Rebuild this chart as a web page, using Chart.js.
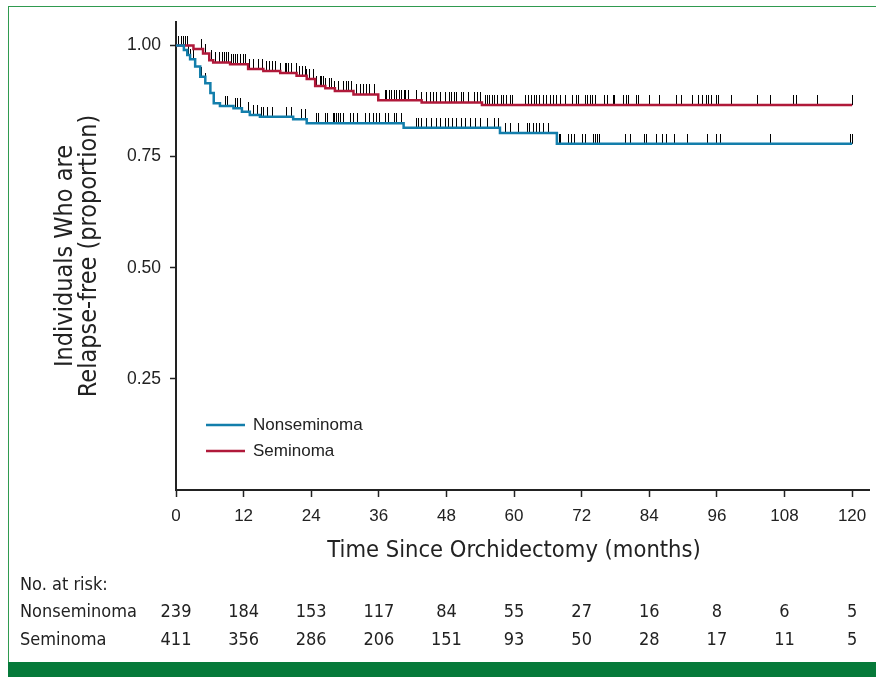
<!DOCTYPE html>
<html><head><meta charset="utf-8">
<script src="https://cdn.jsdelivr.net/npm/chart.js@4/dist/chart.umd.min.js"></script>
<style>
html,body{margin:0;padding:0;background:#fff;}
#wrap{position:relative;width:876px;height:677px;overflow:hidden;background:#fff;}
#frame{position:absolute;left:8px;top:6px;width:900px;height:700px;border-left:1.5px solid #2f9a4f;border-top:1.5px solid #2f9a4f;box-sizing:border-box;}
#bar{position:absolute;left:8px;top:662px;width:868px;height:15px;background:#067a3a;}
canvas{position:absolute;left:0;top:0;}
</style></head>
<body><div id="wrap"><div id="frame"></div><div id="bar"></div><canvas id="c" width="876" height="677"></canvas></div>
<script>
// ---------------- data ----------------
const xTicks = [0,12,24,36,48,60,72,84,96,108,120];
const yTicks = [0.25,0.50,0.75,1.00];
const seriesNames = ['Nonseminoma','Seminoma'];

// Kaplan–Meier step points (time in months, proportion relapse-free from that time on)
const nonsemTimes  = [0,1.4,2.0,2.5,3.4,4.3,5.2,6.1,6.7,7.8,10.2,11.7,13.1,14.9,20.8,23.2,40.4,57.5,67.6,120];
const nonsemValues = [1.0,0.990,0.979,0.969,0.953,0.930,0.915,0.893,0.870,0.864,0.859,0.851,0.844,0.840,0.834,0.825,0.815,0.803,0.779,0.779];
const semTimes  = [0,3.1,4.8,5.9,6.6,9.6,12.8,15.5,18.5,21.4,23.2,24.7,26.5,28.2,31.5,35.9,43.6,54.3,120];
const semValues = [1.0,0.992,0.982,0.967,0.962,0.958,0.947,0.943,0.938,0.932,0.925,0.909,0.904,0.898,0.890,0.877,0.872,0.866,0.866];

// censoring times (months)
const nonsemCensor = [2.2,2.5,3.1,4.6,5.2,8.8,9.2,10.5,11.0,11.4,12.8,13.8,14.4,15.1,15.6,16.2,17.2,19.6,20.5,22.3,22.9,24.9,25.3,26.5,26.9,27.9,28.2,28.5,28.8,29.2,29.8,30.9,31.5,32.2,33.7,34.4,35.0,35.5,36.2,37.1,37.7,38.7,39.1,40.1,42.7,43.0,43.6,44.5,45.4,46.3,46.9,47.8,48.3,49.1,49.8,50.6,51.3,52.2,53.1,54.0,55.2,56.6,57.2,58.4,59.3,60.8,62.3,62.8,63.4,64.0,64.6,65.2,66.1,68.0,68.3,69.6,70.2,70.7,72.2,72.6,74.1,74.4,74.8,75.1,79.8,80.6,83.1,83.5,85.2,86.4,87.1,88.4,90.7,94.3,96.0,96.6,105.5,119.8,120];
const semCensor = [0.5,0.9,1.3,1.6,2.0,4.5,5.3,6.3,7.0,7.8,8.2,8.6,9.0,9.4,9.8,10.2,10.6,11.0,11.4,11.9,12.4,13.0,13.8,14.6,15.3,16.0,16.6,17.2,17.6,18.5,19.4,19.6,19.9,20.5,21.3,22.0,22.4,22.9,23.2,23.7,24.4,25.0,25.6,25.9,26.2,26.5,27.2,27.6,28.2,28.8,29.7,30.2,30.6,31.2,32.0,32.7,33.3,33.9,34.4,35.3,37.1,37.4,37.9,38.3,38.7,39.2,39.6,40.1,40.5,40.8,41.2,42.7,43.6,44.5,45.1,45.7,46.3,46.9,47.8,48.6,48.9,49.4,49.8,50.6,51.0,51.9,53.0,53.6,54.1,54.9,55.3,55.7,56.2,56.6,57.1,57.7,58.1,58.7,59.3,59.7,62.0,62.5,63.1,63.6,64.0,64.6,65.2,65.8,66.4,67.0,67.6,68.3,69.2,70.4,71.1,71.4,72.6,73.0,73.5,74.0,74.4,76.0,76.5,77.6,77.9,79.5,79.9,80.3,81.7,82.1,84.1,85.8,88.9,89.8,91.7,92.7,93.5,94.1,94.5,95.1,95.9,96.3,98.6,103.2,105.6,109.6,110.2,113.8,120];

// numbers at risk
const riskTimes = [0,12,24,36,48,60,72,84,96,108,120];
const riskNonsem = [239,184,153,117,84,55,27,16,8,6,5];
const riskSem = [411,356,286,206,151,93,50,28,17,11,5];

const xTitle = 'Time Since Orchidectomy (months)';
const yTitle = ['Individuals Who are','Relapse-free (proportion)'];
const riskHeader = 'No. at risk:';

// ---------------- styles ----------------
const BLUE = '#137eab', RED = '#b0193a', INK = '#222222';
const SANS = "'Liberation Sans', Arial, Helvetica, sans-serif";
const NARROW = "'Liberation Sans Narrow', 'DejaVu Sans Condensed', 'Roboto', sans-serif";

function stepAt(times, vals, t){ let v = vals[0]; for (let i=0;i<times.length;i++){ if (times[i] <= t) v = vals[i]; } return v; }
function pts(times, vals){ return times.map((t,i)=>({x:t,y:vals[i]})); }
function censorPts(ct, times, vals){ return ct.map(t=>({x:t,y:stepAt(times, vals, t)})); }

// censor tick glyph: thin vertical bar extending upward from the point
const tick = document.createElement('canvas');
tick.width = 1; tick.height = 20;
(function(){ const c = tick.getContext('2d'); c.fillStyle = '#000'; c.fillRect(0,0,1,10); })();

const extras = {
  id: 'extras',
  afterDraw(chart){
    const ctx = chart.ctx, xs = chart.scales.x;
    ctx.save();
    // x-axis title
    ctx.fillStyle = INK; ctx.textAlign = 'center'; ctx.textBaseline = 'middle';
    ctx.font = `23.5px ${NARROW}`;
    ctx.fillText(xTitle, (xs.getPixelForValue(0) + xs.getPixelForValue(120)) / 2, 551);
    // legend
    const cols = [BLUE, RED];
    const ly = [425, 451];
    ctx.textAlign = 'left';
    ctx.font = `17px ${SANS}`;
    seriesNames.forEach((n,i)=>{
      ctx.strokeStyle = cols[i]; ctx.lineWidth = 2.5;
      ctx.beginPath(); ctx.moveTo(206, ly[i]); ctx.lineTo(245, ly[i]); ctx.stroke();
      ctx.fillStyle = INK; ctx.fillText(n, 253, ly[i] + 0.5);
    });
    // number-at-risk table
    ctx.font = `18px ${NARROW}`;
    ctx.fillStyle = INK;
    ctx.textAlign = 'left';
    ctx.fillText(riskHeader, 20, 585);
    ctx.fillText(seriesNames[0], 20, 612);
    ctx.fillText(seriesNames[1], 20, 640);
    ctx.textAlign = 'center';
    riskTimes.forEach((t,i)=>{
      const px = xs.getPixelForValue(t);
      ctx.fillText(String(riskNonsem[i]), px, 612);
      ctx.fillText(String(riskSem[i]), px, 640);
    });
    ctx.restore();
  }
};

new Chart(document.getElementById('c'), {
  type: 'line',
  data: {
    datasets: [
      { label: seriesNames[0], data: pts(nonsemTimes, nonsemValues), borderColor: BLUE, borderWidth: 2.5, stepped: 'before', pointRadius: 0, fill: false, order: 1 },
      { label: seriesNames[1], data: pts(semTimes, semValues), borderColor: RED, borderWidth: 2.5, stepped: 'before', pointRadius: 0, fill: false, order: 1 },
      { label: 'Nonseminoma censored', data: censorPts(nonsemCensor, nonsemTimes, nonsemValues), showLine: false, pointStyle: tick, pointRadius: 5, order: 2 },
      { label: 'Seminoma censored', data: censorPts(semCensor, semTimes, semValues), showLine: false, pointStyle: tick, pointRadius: 5, order: 2 }
    ]
  },
  options: {
    responsive: false,
    animation: false,
    devicePixelRatio: 1,
    layout: { padding: { left: 0, right: 7, top: 22, bottom: 0 } },
    plugins: { legend: { display: false }, tooltip: { enabled: false } },
    scales: {
      x: {
        type: 'linear', min: 0, max: 123,
        afterBuildTicks: s => { s.ticks = xTicks.map(v => ({ value: v })); },
        afterFit: s => { s.height = 187; },
        grid: { drawOnChartArea: false, drawTicks: true, tickLength: 7, tickColor: INK, tickWidth: 1.5 },
        border: { display: true, color: INK, width: 2 },
        ticks: { color: INK, font: { family: SANS, size: 17 }, padding: 9, maxRotation: 0, autoSkip: false, callback: v => String(v) },
      },
      y: {
        type: 'linear', min: 0, max: 1.053,
        afterBuildTicks: s => { s.ticks = yTicks.map(v => ({ value: v })); },
        afterFit: s => { s.width = 176; },
        grid: { drawOnChartArea: false, drawTicks: true, tickLength: 6, tickColor: INK, tickWidth: 1.5 },
        border: { display: true, color: INK, width: 2 },
        ticks: { color: INK, font: { family: SANS, size: 17.5 }, padding: 9, callback: v => Number(v).toFixed(2) },
        title: { display: true, text: yTitle, color: INK, font: { family: NARROW, size: 25, lineHeight: 0.96 }, padding: { top: 53, bottom: 0 } }
      }
    }
  },
  plugins: [extras]
});
</script>
</body></html>
